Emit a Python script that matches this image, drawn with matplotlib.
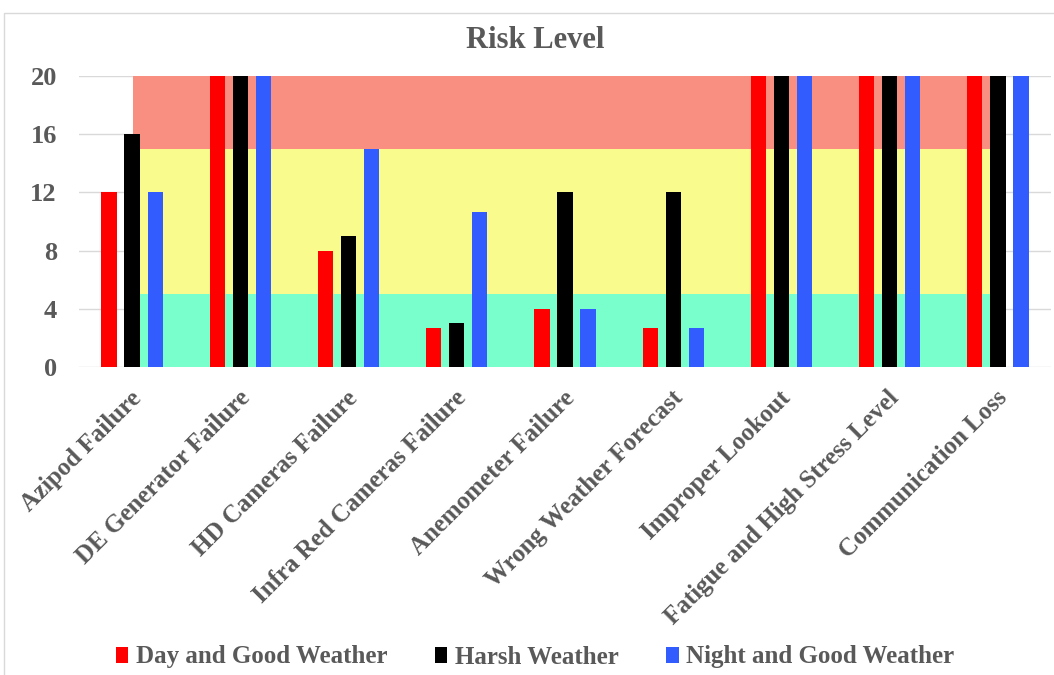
import matplotlib.pyplot as plt
import numpy as np
from matplotlib.patches import Patch, Rectangle

categories = ['Azipod Failure', 'DE Generator Failure', 'HD Cameras Failure',
              'Infra Red Cameras Failure', 'Anemometer Failure',
              'Wrong Weather Forecast', 'Improper Lookout',
              'Fatigue and High Stress Level', 'Communication Loss']
day_good = [12, 20, 8, 2.67, 4, 2.67, 20, 20, 20]
harsh = [16, 20, 9, 3, 12, 12, 20, 20, 20]
night_good = [12, 20, 15, 10.67, 4, 2.67, 20, 20, 20]
series_names = ['Day and Good Weather', 'Harsh Weather', 'Night and Good Weather']

# risk zones (low / medium / high)
zone_edges = [0, 5, 15, 20]
zone_colors = ['#78FFCC', '#F9FC8C', '#F98F80']
zone_x = [0.005, 7.93]

gray = '#595959'
font = 'Liberation Serif'
plt.rcParams['font.family'] = font

fig = plt.figure(figsize=(10.54, 6.75), dpi=100)
ax = fig.add_axes([79 / 1054, 1 - 367 / 675, (1051 - 79) / 1054, (367 - 76) / 675])

# frame around the whole chart
fig.patches.append(Rectangle((4 / 1054, -0.05), 1.1, 1 - 13 / 675 + 0.05,
                             transform=fig.transFigure, fill=False,
                             edgecolor='#d9d9d9', linewidth=1))

for lo, hi, c in zip(zone_edges[:-1], zone_edges[1:], zone_colors):
    ax.fill_between(zone_x, lo, hi, color=c, linewidth=0, zorder=1)

x = np.arange(len(categories))
w = 0.14
off = 0.213
colors = ['#FF0000', '#000000', '#335CFF']
for i, (vals, c) in enumerate(zip([day_good, harsh, night_good], colors)):
    ax.bar(x + (i - 1) * off, vals, width=w, color=c, zorder=3)

ax.set_xlim(-0.49, 8.49)
ax.set_ylim(0, 20)
ax.set_yticks(range(0, 21, 4))
ax.yaxis.grid(True, color='#d9d9d9', linewidth=1, zorder=0)
ax.set_axisbelow(True)
for s in ax.spines.values():
    s.set_visible(False)
ax.tick_params(length=0)
ax.tick_params(axis='y', labelsize=19, labelcolor=gray, pad=16)
for t in ax.get_yticklabels():
    t.set_fontweight('bold')

ax.set_xticks(x - 0.02)
ax.set_xticklabels(categories, rotation=45, ha='right', rotation_mode='anchor',
                   fontsize=18, fontweight='bold', color=gray)
ax.tick_params(axis='x', pad=14)

fig.text(535 / 1054, 1 - 41 / 675, 'Risk Level', ha='center', va='center',
         fontsize=22, fontweight='bold', color=gray)

handles = [Patch(facecolor=c, edgecolor='none') for c in colors]
leg = fig.legend(handles, series_names, loc='center', ncol=3,
                 bbox_to_anchor=(535 / 1054, 1 - 657 / 675), frameon=False,
                 handlelength=0.5, handleheight=0.6, handletextpad=0.3,
                 columnspacing=1.9, prop={'family': font, 'weight': 'bold', 'size': 18})
for t in leg.get_texts():
    t.set_color(gray)

fig.savefig('out.png', dpi=100)
